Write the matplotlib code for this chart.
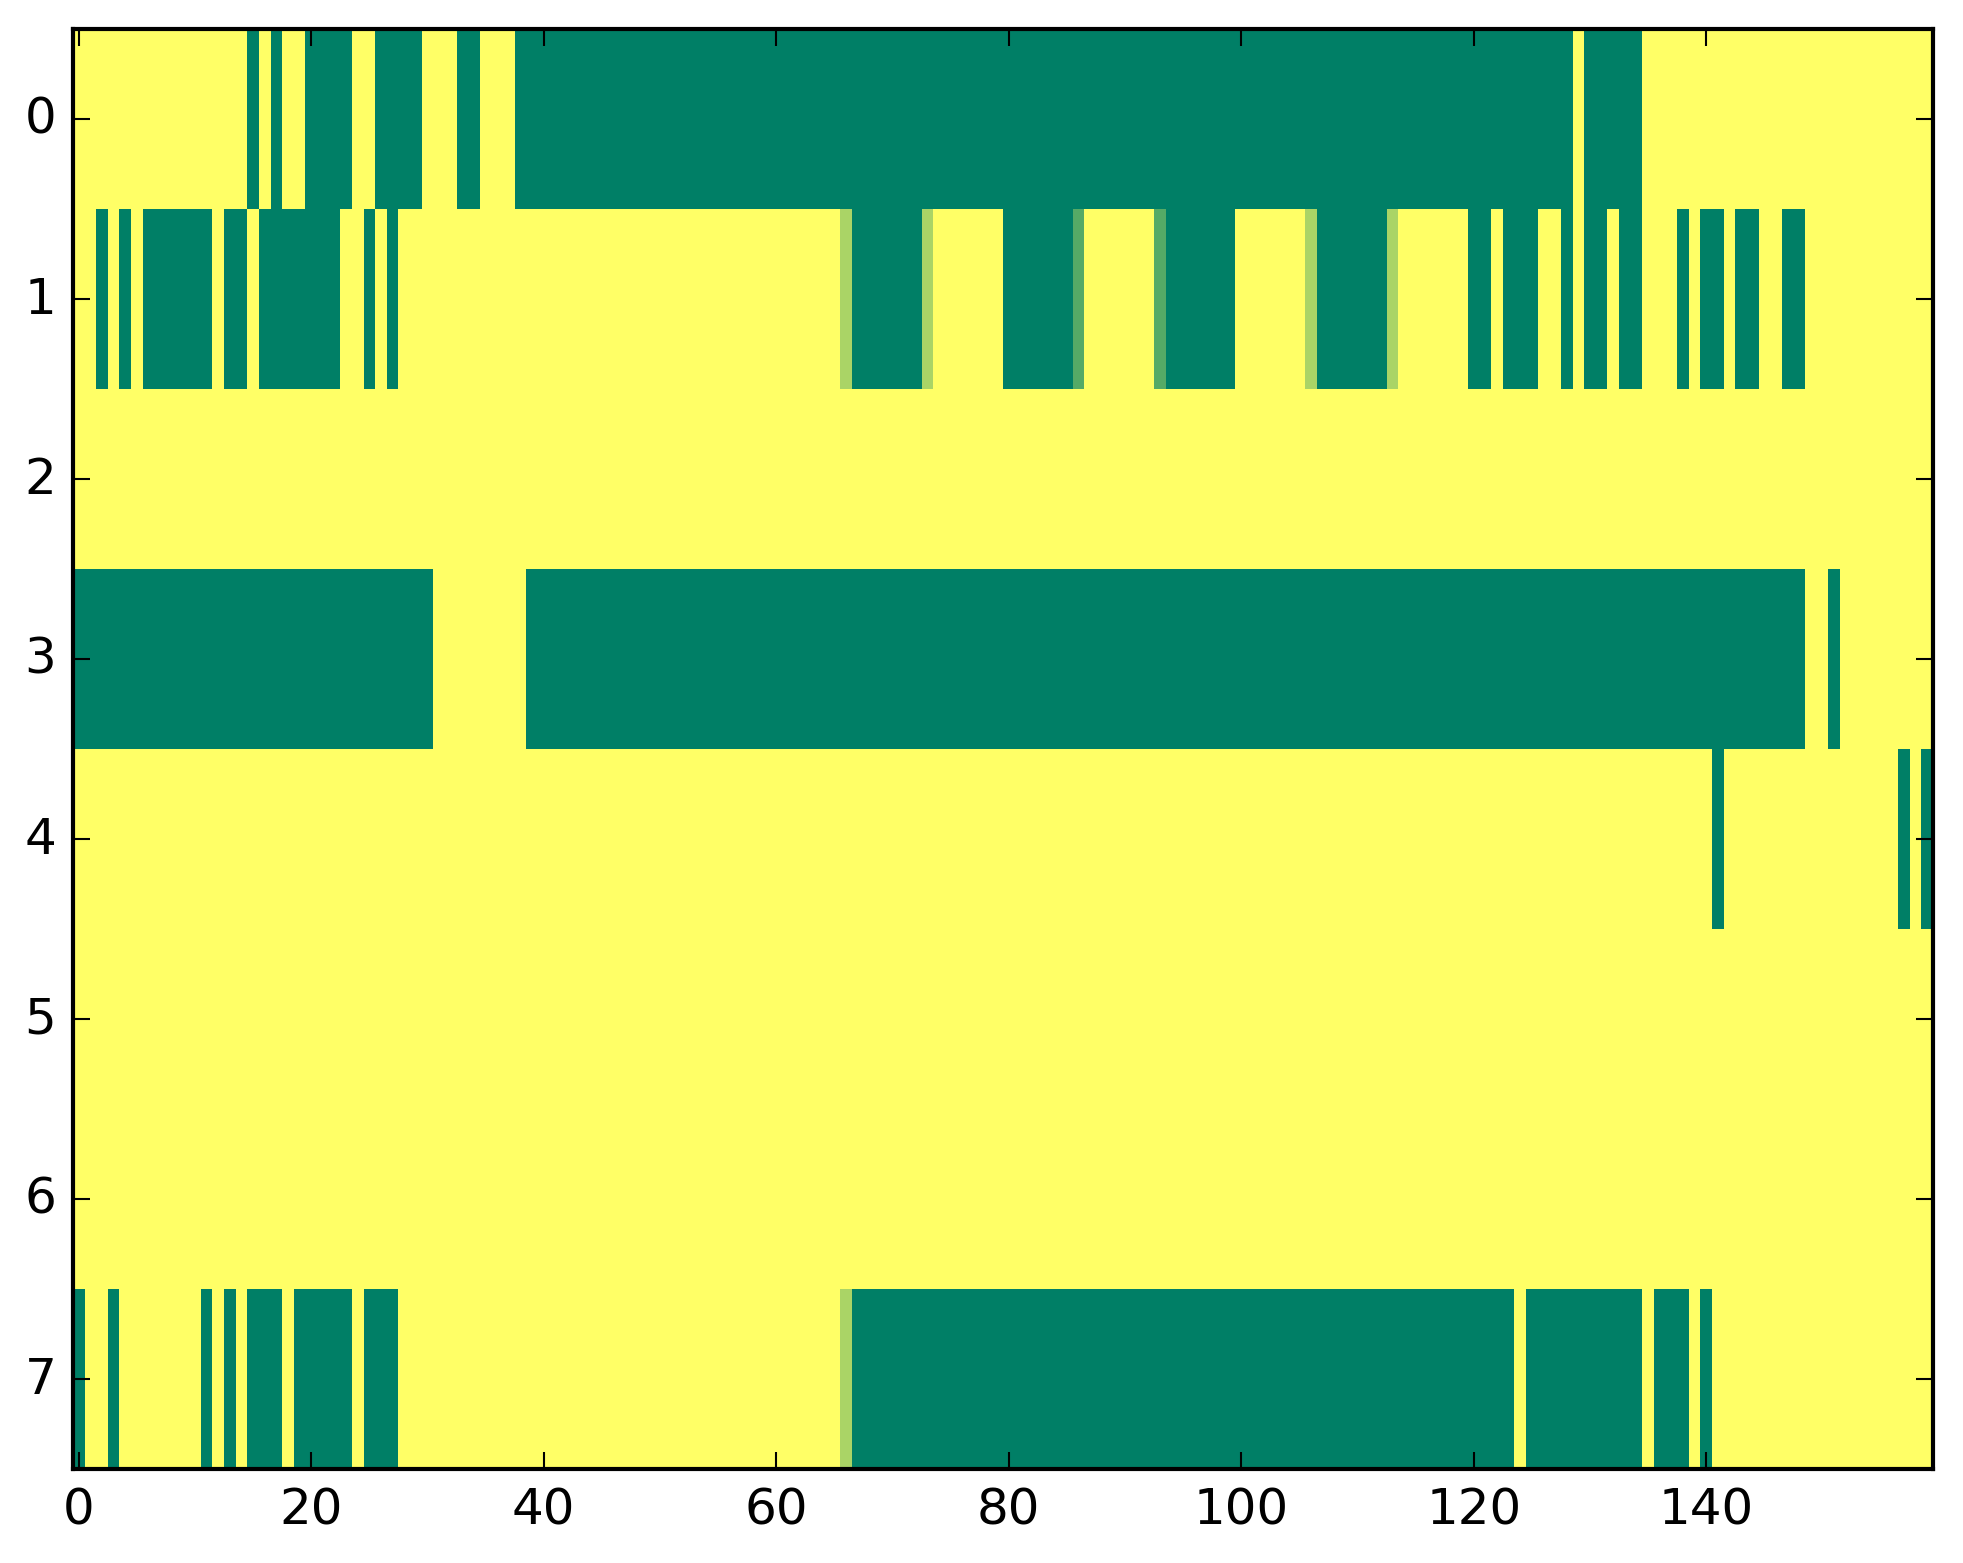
import numpy as np
import matplotlib
matplotlib.use("Agg")
import matplotlib.pyplot as plt

# one string per row, one character per column
# '#' = 0 (green), '.' = 1 (yellow), 'm' = 1/3, 'l' = 2/3
row0 = (".........." ".....#.#.." "####..####" "...##...##" "##########"
        "##########" "##########" "##########" "##########" "##########"
        "##########" "##########" "#########." "#####....." ".........."
        "..........")
row1 = ("..#.#.####" "##.##.####" "###..#.#.." ".........." ".........."
        ".........." "......l###" "###l......" "######m..." "...m######"
        "......l###" "###l......" "##.###..#." "##.##...#." "##.##..##."
        "..........")
row2 = "." * 160
row3 = ("##########" "##########" "##########" "#........#" "##########"
        "##########" "##########" "##########" "##########" "##########"
        "##########" "##########" "##########" "##########" "#########."
        ".#........")
row4 = (".........." ".........." ".........." ".........." ".........."
        ".........." ".........." ".........." ".........." ".........."
        ".........." ".........." ".........." ".........." ".#........"
        ".......#.#")
row5 = "." * 160
row6 = "." * 160
row7 = ("#..#......" ".#.#.###.#" "####.###.." ".........." ".........."
        ".........." "......l###" "##########" "##########" "##########"
        "##########" "##########" "####.#####" "#####.###." "#........."
        "..........")

codes = {"#": 0.0, ".": 1.0, "m": 1 / 3, "l": 2 / 3}
rows = [row0, row1, row2, row3, row4, row5, row6, row7]
data = np.array([[codes[ch] for ch in r] for r in rows])

plt.style.use("classic")
W, H, dpi = 1963, 1564, 300
fig = plt.figure(figsize=(W / dpi, H / dpi), dpi=dpi, facecolor="white")
ax = fig.add_axes([73 / W, 1 - 1470 / H, 1860 / W, 1440 / H])
ax.imshow(data, cmap="summer", aspect="auto", interpolation="nearest")
ax.set_xticks(range(0, 160, 20))
ax.set_yticks(range(8))
fig.savefig("out.png", dpi=dpi, facecolor="white")
